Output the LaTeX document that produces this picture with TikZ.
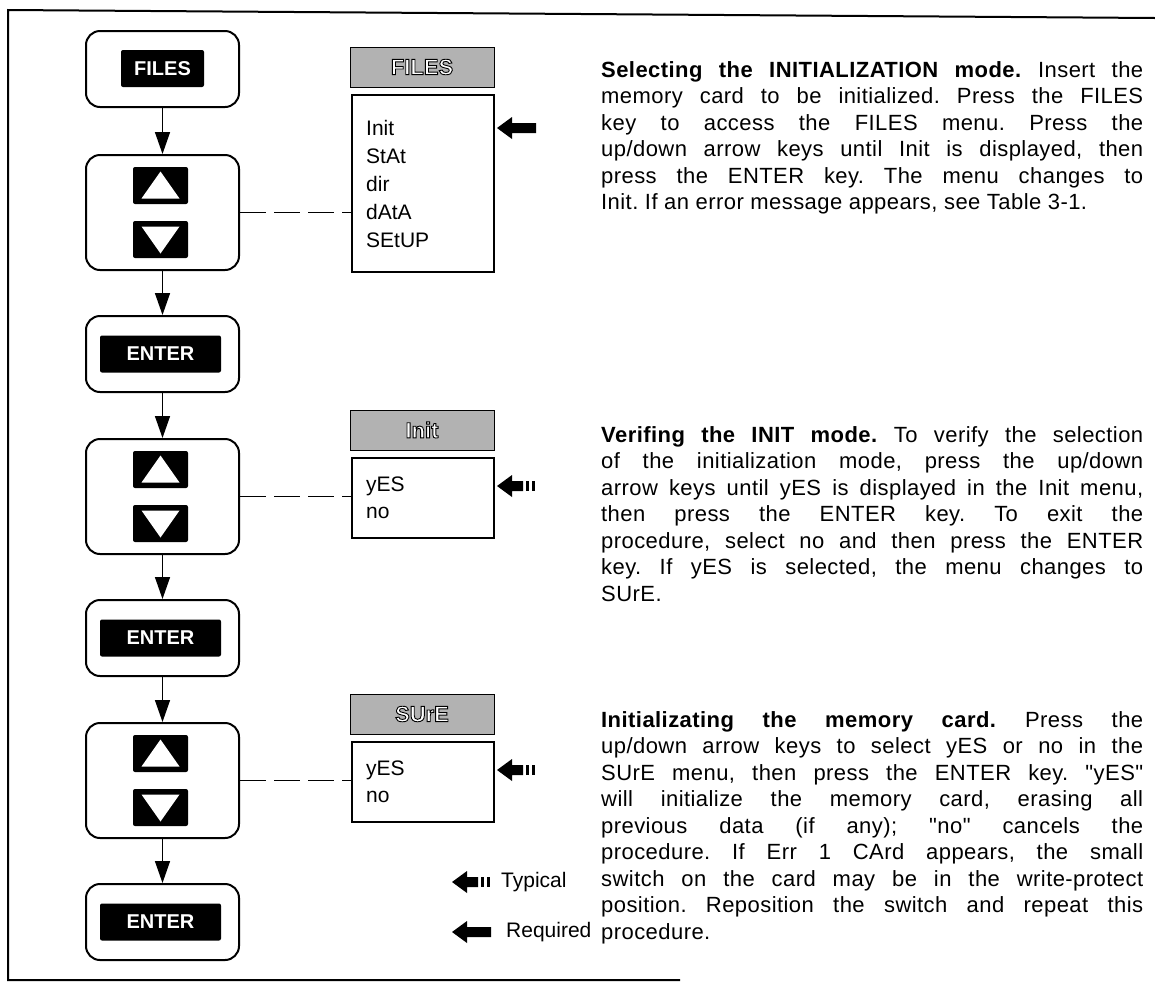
\documentclass[tikz,border=0pt]{standalone}
\usepackage{fontspec}
\setmainfont{Liberation Sans}
\newfontfamily\parafont[LetterSpace=2]{Liberation Sans}
\usetikzlibrary{arrows.meta,calc}
\newcommand\reqarrow[2]{\fill (#1,#2) -- ++(15,-11) -- ++(0,6) -- ++(24,0) -- ++(0,10) -- ++(-24,0) -- ++(0,6) -- cycle;}
\newcommand\typarrow[2]{\fill (#1,#2) -- ++(15,-11) -- ++(0,6) -- ++(11,0) -- ++(0,10) -- ++(-11,0) -- ++(0,6) -- cycle;
  \fill ({#1+29},{#2-5}) rectangle ++(3,10); \fill ({#1+35},{#2-5}) rectangle ++(3,10);}
\newcommand\outlinetext[1]{\special{pdf:literal direct 0 G 1 g 0.9 w 2 Tr}#1\special{pdf:literal direct 0 Tr}}
\begin{document}
\begin{tikzpicture}[x=1pt,y=-1pt,
  keybox/.style={draw, line width=2pt, rounded corners=14pt, minimum width=153pt, inner sep=0},
  blackkey/.style={fill=black, draw=none, rounded corners=2pt, text=white, font=\fontsize{20}{24}\selectfont\bfseries, inner sep=0, minimum height=37pt},
  flow/.style={line width=1.5pt, -{Triangle[length=22pt,width=15pt]}},
  link/.style={line width=1.5pt, dash pattern=on 26pt off 8pt},
  hdr/.style={draw, line width=1pt, fill=black!30, minimum width=144pt, minimum height=40pt, inner sep=0, text=white, font=\fontsize{22}{26}\selectfont\bfseries},
  menubox/.style={draw, line width=1.5pt, minimum width=142pt, inner sep=0},
  item/.style={font=\fontsize{21}{25}\selectfont, anchor=west, inner sep=0},
  para/.style={font=\parafont\fontsize{22}{26.5}\selectfont\frenchspacing, text width=542pt, align=justify, anchor=base west, inner sep=0}]
\useasboundingbox (0,0) rectangle (1155,989);
% frame
\draw[line width=2pt] (1155,18) -- (8,10) -- (8,980) -- (680,980);

% key column
\node[keybox, minimum height=76pt] (kfiles) at (162.5,69) {};
\node[blackkey, minimum width=83pt] (files) at (162.5,68.5) {FILES};
\node[keybox, minimum height=115pt] (ud1) at (162.5,212.5) {};
\node[keybox, minimum height=76pt] (ken1) at (162.5,354) {};
\node[blackkey, minimum width=121pt] (enter1) at (160.5,354) {ENTER};
\node[keybox, minimum height=115pt] (ud2) at (162.5,496.5) {};
\node[keybox, minimum height=76pt] (ken2) at (162.5,638) {};
\node[blackkey, minimum width=121pt] (enter2) at (160.5,638) {ENTER};
\node[keybox, minimum height=115pt] (ud3) at (162.5,780.5) {};
\node[keybox, minimum height=76pt] (ken3) at (162.5,922) {};
\node[blackkey, minimum width=121pt] (enter3) at (160.5,922) {ENTER};

\foreach \b in {ud1,ud2,ud3}{
  \node[blackkey, minimum width=55pt] (\b up) at ($(\b.center)+(-2,-27)$) {};
  \node[blackkey, minimum width=55pt] (\b dn) at ($(\b.center)+(-2,27)$) {};
  \fill[white] ($(\b up.center)+(0,-14)$) -- ($(\b up.center)+(-19,13)$) -- ($(\b up.center)+(19,13)$) -- cycle;
  \fill[white] ($(\b dn.center)+(0,14)$) -- ($(\b dn.center)+(-19,-13)$) -- ($(\b dn.center)+(19,-13)$) -- cycle;
}

\draw[flow] (kfiles.south) -- (ud1.north);
\draw[flow] (ud1.south) -- (ken1.north);
\draw[flow] (ken1.south) -- (ud2.north);
\draw[flow] (ud2.south) -- (ken2.north);
\draw[flow] (ken2.south) -- (ud3.north);
\draw[flow] (ud3.south) -- (ken3.north);

% menus
\node[hdr] (h1) at (422,67) {\outlinetext{FILES}};
\node[menubox, minimum height=177pt] (m1) at (423,183.5) {};
\node[item] (i11) at (366,128) {Init};
\node[item] (i12) at (366,156) {StAt};
\node[item] (i13) at (366,184) {dir};
\node[item] (i14) at (366,212) {dAtA};
\node[item] (i15) at (366,240) {SEtUP};

\node[hdr] (h2) at (422,430) {\outlinetext{Init}};
\node[menubox, minimum height=80pt] (m2) at (423,498) {};
\node[item] (i21) at (366,486) {yES};
\node[item] (i22) at (366,513) {no};

\node[hdr] (h3) at (422,714) {\outlinetext{SUrE}};
\node[menubox, minimum height=80pt] (m3) at (423,782) {};
\node[item] (i31) at (366,770) {yES};
\node[item] (i32) at (366,797) {no};

\draw[link] (ud1.east) -- (ud1.east -| m1.west);
\draw[link] (ud2.east) -- (ud2.east -| m2.west);
\draw[link] (ud3.east) -- (ud3.east -| m3.west);

\reqarrow{497}{128}
\typarrow{497}{486}
\typarrow{497}{770}

% legend
\typarrow{452}{882}
\node[item] (lt) at (501,882) {Typical};
\reqarrow{452}{932}
\node[item] (lr) at (506,932) {Required};

% paragraphs
\node[para] (p1) at (601,77) {\textbf{Selecting the INITIALIZATION mode.} Insert the\linebreak memory card to be initialized. Press the FILES\linebreak key to access the FILES menu. Press the\linebreak up/down arrow keys until Init is displayed, then\linebreak press the ENTER key. The menu changes to\linebreak Init. If an error message appears, see Table 3-1.};
\node[para] (p2) at (601,442) {\textbf{Verifing the INIT mode.} To verify the selection\linebreak of the initialization mode, press the up/down\linebreak arrow keys until yES is displayed in the Init menu,\linebreak then press the ENTER key. To exit the\linebreak procedure, select no and then press the ENTER\linebreak key. If yES is selected, the menu changes to\linebreak SUrE.};
\node[para] (p3) at (601,727) {\textbf{Initializating the memory card.} Press the\linebreak up/down arrow keys to select yES or no in the\linebreak SUrE menu, then press the ENTER key. "yES"\linebreak will initialize the memory card, erasing all\linebreak previous data (if any); "no" cancels the\linebreak procedure. If Err 1 CArd appears, the small\linebreak switch on the card may be in the write-protect\linebreak position. Reposition the switch and repeat this\linebreak procedure.};
\end{tikzpicture}
\end{document}
